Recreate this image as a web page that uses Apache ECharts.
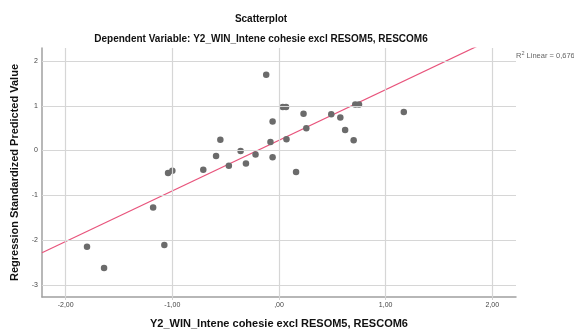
<!DOCTYPE html>
<html>
<head>
<meta charset="utf-8">
<script src="https://cdn.jsdelivr.net/npm/echarts@6/dist/echarts.min.js"></script>
<style>
  html, body { margin: 0; padding: 0; background: #ffffff; }
  #chart { width: 574px; height: 334px; }
</style>
</head>
<body>
<div id="chart"></div>
<script>
// Standardized x values (Y2_WIN_Intene cohesie excl RESOM5, RESCOM6)
const xValues = [-1.80, -1.64, -1.18, -1.075, -1.04, -1.00, -0.71, -0.59, -0.55, -0.47,
                 -0.36, -0.31, -0.22, -0.12, -0.08, -0.06, -0.06, 0.035, 0.066, 0.07,
                 0.16, 0.23, 0.256, 0.49, 0.575, 0.62, 0.70, 0.715, 0.75, 1.17];
// Regression standardized predicted values
const yValues = [-2.15, -2.62, -1.27, -2.11, -0.50, -0.45, -0.43, -0.12, 0.24, -0.34,
                 -0.01, -0.29, -0.09, 1.69, 0.19, 0.65, -0.15, 0.97, 0.97, 0.25,
                 -0.48, 0.82, 0.50, 0.81, 0.74, 0.46, 0.23, 1.03, 1.03, 0.86];

// Linear fit line: y = fitIntercept + fitSlope * x
const fitIntercept = 0.23;
const fitSlope = 1.13;
const rSquaredLabel = '0,676';

// Axis ticks and labels
const xTickValues = [-2, -1, 0, 1, 2];
const xTickLabels = ['-2,00', '-1,00', ',00', '1,00', '2,00'];
const yTickValues = [-3, -2, -1, 0, 1, 2];
const yTickLabels = ['-3', '-2', '-1', '0', '1', '2'];

const xRange = [-2.222, 2.222];
const yRange = [-3.27, 2.29];

const FONT = '"Liberation Sans", Arial, sans-serif';

const points = xValues.map((x, i) => [x, yValues[i]]);
const fitLine = xRange.map(x => [x, fitIntercept + fitSlope * x]);

const gridLines = [
  ...xTickValues.map(v => ({ xAxis: v })),
  ...yTickValues.map(v => ({ yAxis: v }))
];

const chart = echarts.init(document.getElementById('chart'), null, { renderer: 'canvas' });

chart.setOption({
  animation: false,
  backgroundColor: '#ffffff',
  grid: { left: 42, right: 58, top: 48, bottom: 35, containLabel: false },
  graphic: [
    {
      type: 'text', x: 261, y: 19, silent: true,
      style: { text: 'Scatterplot', font: 'bold 10px ' + FONT, fill: '#111', align: 'center', verticalAlign: 'middle' }
    },
    {
      type: 'text', x: 261, y: 39, silent: true,
      style: {
        text: 'Dependent Variable: Y2_WIN_Intene cohesie excl RESOM5, RESCOM6',
        font: 'bold 10px ' + FONT, fill: '#111', align: 'center', verticalAlign: 'middle'
      }
    },
    {
      type: 'text', x: 516, y: 55, silent: true,
      style: {
        text: '{r|R}{s|2}{r| Linear = ' + rSquaredLabel + '}',
        align: 'left', verticalAlign: 'middle',
        rich: {
          r: { fontFamily: FONT, fontWeight: 'normal', fontSize: 7.5, fill: '#666', lineHeight: 10, verticalAlign: 'bottom' },
          s: { fontFamily: FONT, fontWeight: 'normal', fontSize: 5.5, fill: '#666', lineHeight: 10, verticalAlign: 'top' }
        }
      }
    }
  ],
  xAxis: {
    type: 'value',
    min: xRange[0], max: xRange[1],
    name: 'Y2_WIN_Intene cohesie excl RESOM5, RESCOM6',
    nameLocation: 'middle', nameGap: 21,
    nameTextStyle: { fontFamily: FONT, fontWeight: 'bold', fontSize: 11, color: '#111' },
    axisLine: { show: true, onZero: false, lineStyle: { color: '#a0a0a0', width: 1.5 } },
    axisTick: { show: true, customValues: xTickValues, length: 3, lineStyle: { color: '#d2d2d2' } },
    axisLabel: {
      customValues: xTickValues,
      formatter: v => xTickLabels[xTickValues.indexOf(v)],
      fontFamily: FONT, fontSize: 7, color: '#444', margin: 5
    },
    splitLine: { show: false }
  },
  yAxis: {
    type: 'value',
    min: yRange[0], max: yRange[1],
    name: 'Regression Standardized Predicted Value',
    nameLocation: 'middle', nameGap: 16,
    nameTextStyle: { fontFamily: FONT, fontWeight: 'bold', fontSize: 11, color: '#111' },
    axisLine: { show: true, onZero: false, lineStyle: { color: '#a0a0a0', width: 1.5 } },
    axisTick: { show: false },
    axisLabel: {
      customValues: yTickValues,
      formatter: v => yTickLabels[yTickValues.indexOf(v)],
      fontFamily: FONT, fontSize: 7, color: '#444', margin: 4
    },
    splitLine: { show: false }
  },
  series: [
    {
      // reference grid at each tick value
      type: 'line', data: [], z: 1, silent: true,
      markLine: {
        silent: true, symbol: ['none', 'none'], animation: false,
        label: { show: false },
        lineStyle: { type: 'solid', color: '#d6d6d6', width: 1.2 },
        emphasis: { disabled: true },
        data: gridLines
      }
    },
    {
      type: 'line', data: fitLine, z: 3, silent: true,
      symbol: 'none', clip: true,
      lineStyle: { color: '#e8547c', width: 1.2 }
    },
    {
      type: 'scatter', data: points, z: 4, silent: true,
      symbol: 'circle', symbolSize: 6.5,
      itemStyle: { color: '#6b6b6b', opacity: 1 }
    }
  ]
});
</script>
</body>
</html>
